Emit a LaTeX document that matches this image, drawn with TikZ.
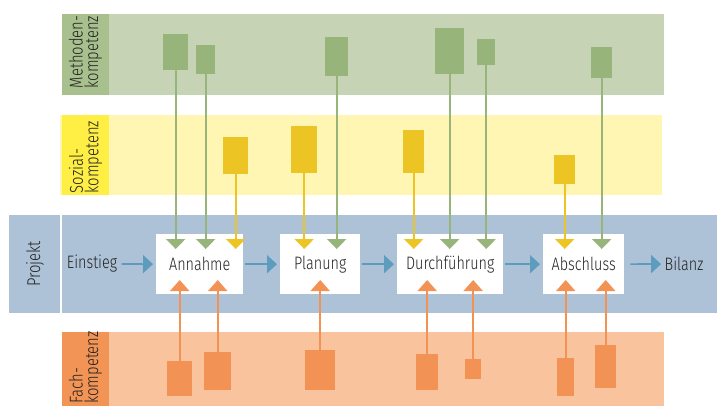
\documentclass[tikz,border=0pt]{standalone}
\usepackage{fontspec}
\setmainfont{Fira Sans}[FakeStretch=0.8, UprightFont={* Light}]
\usetikzlibrary{arrows.meta,calc}
\definecolor{gband}{HTML}{C7D3B5}
\definecolor{glab}{HTML}{A8C08D}
\definecolor{gbox}{HTML}{97B57A}
\definecolor{yband}{HTML}{FFF6B4}
\definecolor{ylab}{HTML}{FFEE44}
\definecolor{ybox}{HTML}{ECC524}
\definecolor{bband}{HTML}{ADC2D6}
\definecolor{barrow}{HTML}{5E9CBE}
\definecolor{oband}{HTML}{F9C39E}
\definecolor{olab}{HTML}{F29455}
\definecolor{obox}{HTML}{F29255}
\definecolor{txt}{HTML}{222222}
\begin{document}
\begin{tikzpicture}[x=1pt,y=-1pt,
  bar/.style={fill=#1, draw=none, inner sep=0pt, anchor=north west},
  phase/.style={fill=white, inner sep=0pt, anchor=north west, minimum height=60pt, font=\fontsize{18}{20}\selectfont, text=txt},
  plain/.style={font=\fontsize{18}{20}\selectfont, text=txt},
  lab/.style={rotate=90, align=left, font=\fontsize{18.5}{15.5}\selectfont, text=txt, inner sep=0pt},
  down/.style={draw=#1, line width=2pt, -{Triangle[length=10pt,width=19pt]}},
  upar/.style={draw=#1, line width=2pt, -{Triangle[length=11pt,width=19pt]}},
  harrow/.style={draw=barrow, line width=1.7pt, -{Triangle[length=10pt,width=18pt]}, shorten <=2pt, shorten >=3pt}
]
\useasboundingbox (0,0) rectangle (717,405);
\clip (0,0) rectangle (717,405);
% bands
\fill[gband] (62,14) rectangle (664,95);
\fill[glab] (62,14) rectangle (109,95);
\fill[yband] (60,115) rectangle (662,195);
\fill[ylab] (62,115) rectangle (109,195);
\fill[bband] (9,215) rectangle (60,313);
\fill[bband] (62,215) rectangle (717,313);
\fill[oband] (62,332) rectangle (664,412);
\fill[olab] (62,332) rectangle (109,412);
% band labels
\node[lab] (lm) at (85.5,52) {Methoden-\\kompetenz};
\node[lab] (ls) at (85.5,157) {Sozial-\\kompetenz};
\node[lab] (lp) at (35,264) {Projekt};
\node[lab] (lf) at (85.5,367.5) {Fach-\\kompetenz};
% phases
\node[phase, minimum width=87pt] (ann) at (156,234) {Annahme};
\node[phase, minimum width=80pt] (pla) at (280,234) {Planung};
\node[phase, minimum width=106pt] (dur) at (397,234) {Durchführung};
\node[phase, minimum width=81pt] (abs) at (543,234) {Abschluss};
\node[plain] (ein) at (92,264) {Einstieg};
\node[plain] (bil) at (684,264) {Bilanz};
\draw[harrow, shorten <=1pt] (ein) -- (ann);
\draw[harrow] (ann) -- (pla);
\draw[harrow] (pla) -- (dur);
\draw[harrow] (dur) -- (abs);
\draw[harrow, shorten <=6pt, shorten >=0pt] (abs) -- (bil);
% method bars
\node[bar=gbox, minimum width=25pt, minimum height=36pt] (m1) at (163,34) {};
\node[bar=gbox, minimum width=19pt, minimum height=29pt] (m2) at (196,45) {};
\node[bar=gbox, minimum width=23pt, minimum height=39pt] (m3) at (325,37) {};
\node[bar=gbox, minimum width=29pt, minimum height=46pt] (m4) at (435,28) {};
\node[bar=gbox, minimum width=18pt, minimum height=26pt] (m5) at (477,39) {};
\node[bar=gbox, minimum width=21pt, minimum height=31pt] (m6) at (591,47) {};
% social bars
\node[bar=ybox, minimum width=25pt, minimum height=37pt] (s1) at (223,137) {};
\node[bar=ybox, minimum width=26pt, minimum height=47pt] (s2) at (291,126) {};
\node[bar=ybox, minimum width=21pt, minimum height=43pt] (s3) at (403,130) {};
\node[bar=ybox, minimum width=21pt, minimum height=29pt] (s4) at (554,155) {};
% subject bars
\node[bar=obox, minimum width=25pt, minimum height=35pt] (o1) at (167,361) {};
\node[bar=obox, minimum width=27pt, minimum height=38pt] (o2) at (204,352) {};
\node[bar=obox, minimum width=30pt, minimum height=40pt] (o3) at (305,350) {};
\node[bar=obox, minimum width=22pt, minimum height=36pt] (o4) at (416,354) {};
\node[bar=obox, minimum width=16pt, minimum height=20pt] (o5) at (465,359) {};
\node[bar=obox, minimum width=17pt, minimum height=38pt] (o6) at (557,358) {};
\node[bar=obox, minimum width=21pt, minimum height=43pt] (o7) at (595,345) {};
% arrow end levels
\coordinate (din) at (0,249);
\coordinate (uin) at (0,280);
% green arrows
\foreach \m in {m1,m2,m3,m4,m5,m6}
  \draw[down=gbox] (\m.south) -- (\m.south |- din);
% yellow arrows
\foreach \s in {s1,s2,s3,s4}
  \draw[down=ybox] (\s.south) -- (\s.south |- din);
% orange arrows
\foreach \o in {o1,o2,o3,o4,o5,o6,o7}
  \draw[upar=obox] (\o.north) -- (\o.north |- uin);
\end{tikzpicture}
\end{document}
